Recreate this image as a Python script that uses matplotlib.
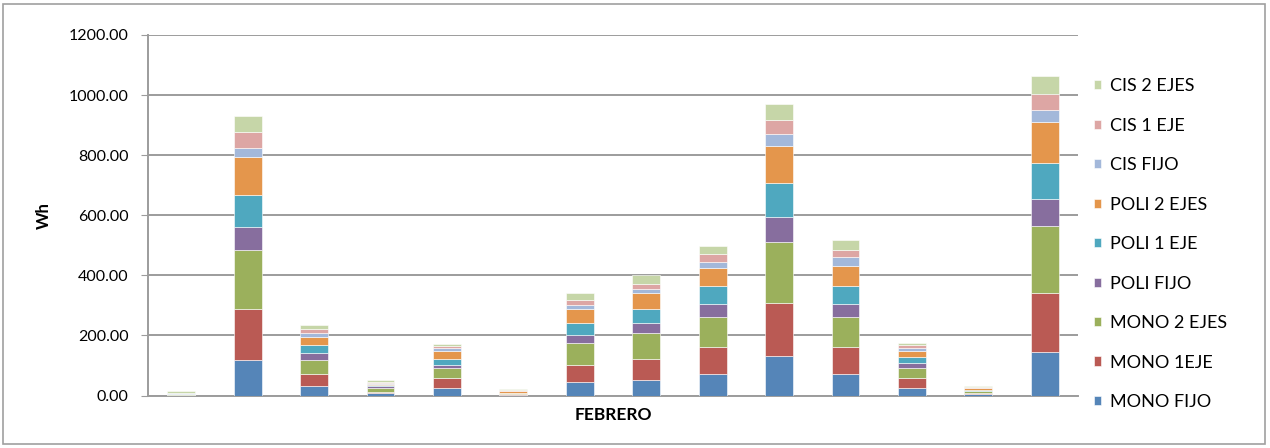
import matplotlib.pyplot as plt
import numpy as np
from matplotlib.patches import Rectangle

plt.rcParams['font.family'] = ['Lato', 'DejaVu Sans']

# 14 barras del mes de febrero, valores en Wh (apilados)
categorias = list(range(1, 15))

series = ['MONO FIJO', 'MONO 1EJE', 'MONO 2 EJES', 'POLI FIJO', 'POLI 1 EJE',
          'POLI 2 EJES', 'CIS FIJO', 'CIS 1 EJE', 'CIS 2 EJES']

mono_fijo = [0.5, 117, 32, 6.7, 26, 0.5, 45, 51.6, 71.5, 131.4, 70.5, 26, 6, 143.7]
mono_1eje = [0.5, 170, 39, 5.5, 32, 6, 57.6, 70.8, 91, 175.3, 91.8, 32, 3, 196.3]
mono_2ejes = [4, 197, 47, 12, 32, 1, 73, 86.5, 99, 203.9, 98.8, 32, 4.5, 223.9]
poli_fijo = [0.5, 77.5, 25, 6, 13, 1, 26.7, 33.3, 44.3, 84.2, 44.3, 18.5, 3, 90.8]
poli_1eje = [0.5, 105.5, 25, 6, 19, 1, 40, 44.6, 60, 112, 59.9, 20, 2, 117.7]
poli_2ejes = [0.5, 125.4, 27, 3, 27, 5, 45.6, 53.2, 58.7, 124, 66.5, 20, 6, 138.5]
cis_fijo = [0.5, 32, 13, 3.3, 10, 1.5, 13.3, 13.3, 20, 41.2, 27.9, 8, 1, 39.9]
cis_1eje = [1, 53, 13, 3.3, 5, 1.5, 17.6, 18.7, 26.7, 45.3, 25.3, 11, 1.5, 51.2]
cis_2ejes = [8, 53, 13, 6.7, 7, 5, 22.2, 28, 26.6, 52.2, 32.3, 7.7, 3, 61]

valores = [mono_fijo, mono_1eje, mono_2ejes, poli_fijo, poli_1eje,
           poli_2ejes, cis_fijo, cis_1eje, cis_2ejes]

colores = ['#5585B8', '#BA5A54', '#9BB05C', '#876E9E', '#4FA8BF',
           '#E4964C', '#A3B8DA', '#DDA6A4', '#C6D6A8']

fig = plt.figure(figsize=(12.7, 4.48), dpi=100)
ax = fig.add_axes([148 / 1270, 52.5 / 448, 930 / 1270, 360.5 / 448])

x = np.arange(len(categorias))
base = np.zeros(len(categorias))
for nombre, vals, col in zip(series, valores, colores):
    ax.bar(x, vals, width=0.42, bottom=base, color=col, label=nombre,
           edgecolor='white', linewidth=0.4, zorder=3)
    base += np.array(vals)

ax.set_xlim(-0.5, len(categorias) - 0.5)
ax.set_ylim(0, 1200)
ax.set_yticks(np.arange(0, 1201, 200))
ax.set_yticklabels([f'{v:.2f}' for v in np.arange(0, 1201, 200)], fontsize=11.5)
ax.set_xticks([])
ax.grid(axis='y', color='#9C9C9C', linewidth=1.4, zorder=0)
ax.tick_params(axis='y', length=5, color='#9C9C9C', pad=9)

for s in ['top', 'right']:
    ax.spines[s].set_visible(False)
ax.spines['left'].set_color('#9C9C9C')
ax.spines['left'].set_linewidth(1.4)
ax.spines['bottom'].set_color('#9C9C9C')
ax.spines['bottom'].set_linewidth(1.4)

ax.set_ylabel('Wh', fontsize=12, fontweight='bold', labelpad=12)
ax.set_xlabel('FEBRERO', fontsize=12.5, fontweight='bold', labelpad=8)

handles, labels = ax.get_legend_handles_labels()
ax.legend(handles[::-1], labels[::-1], loc='center left',
          bbox_to_anchor=(1.0, 0.42), frameon=False, fontsize=13,
          handlelength=0.4, handleheight=0.4, handletextpad=0.45,
          labelspacing=1.3)

# marco exterior del grafico
fig.patches.append(Rectangle((3 / 1270, 4 / 448), 1262 / 1270, 440 / 448,
                             transform=fig.transFigure, fill=False,
                             edgecolor='#A0A0A0', linewidth=1.2))

fig.savefig('out.png', dpi=100)
